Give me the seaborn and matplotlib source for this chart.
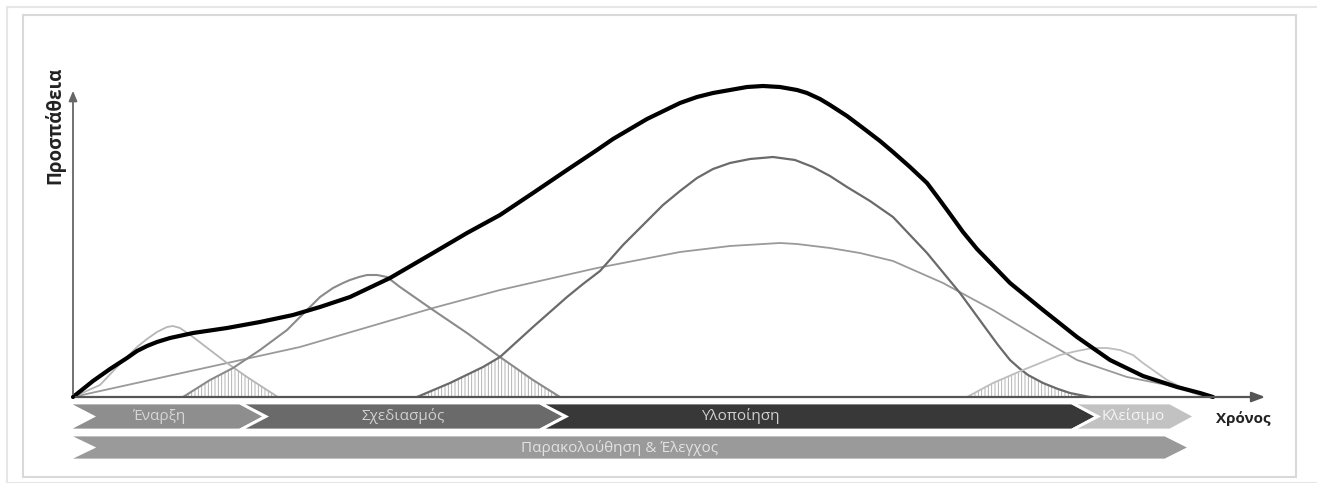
import numpy as np
import pandas as pd
import seaborn as sns
import matplotlib
matplotlib.use('Agg')
import matplotlib.pyplot as plt
from matplotlib.patches import Polygon, Rectangle

sns.set_style('white')
plt.rcParams['font.family'] = ['Open Sans', 'DejaVu Sans']
plt.rcParams['hatch.linewidth'] = 0.6

# effort curves (time, effort)
total_t = [0, 10, 20, 37, 54, 64, 74, 84, 97, 120, 154, 187, 220, 247, 277, 317, 360, 394, 427, 460, 494,
           524, 540, 574, 607, 624, 640, 657, 674, 690, 707, 724, 734, 747, 757, 774, 790, 807, 820, 837,
           854, 866, 877, 890, 904, 937, 970, 1004, 1037, 1070, 1104, 1127, 1140]
total_e = [0, 8, 16, 28, 39, 46, 51, 55, 59, 64, 69, 75, 82, 90, 100, 119, 144, 164, 182, 204, 227,
           247, 258, 278, 294, 300, 304, 307, 310, 311, 310, 307, 304, 298, 292, 281, 269, 256, 245, 230,
           214, 198, 183, 165, 148, 114, 87, 60, 37, 21, 10, 4, 0]

init_t = [0, 27, 44, 54, 64, 74, 84, 94, 100, 107, 120, 137, 154, 174, 194, 205]
init_e = [0, 12, 30, 40, 50, 58, 65, 70, 71, 69, 60, 47, 34, 20, 7, 0]

plan_t = [110, 137, 160, 187, 214, 234, 247, 260, 270, 277, 286, 294, 304, 314, 327, 360, 394, 427, 460, 487]
plan_e = [0, 17, 29, 47, 67, 87, 100, 109, 114, 117, 120, 122, 122, 120, 110, 87, 64, 40, 17, 0]

exec_t = [344, 377, 410, 427, 460, 477, 494, 510, 527, 550, 574, 590, 607, 624, 640, 657, 677, 700, 722,
          740, 757, 774, 797, 820, 854, 887, 914, 925, 937, 946, 955, 970, 985, 997, 1017]
exec_e = [0, 14, 30, 40, 70, 85, 100, 113, 126, 152, 176, 192, 206, 219, 228, 234, 238, 240, 237,
          230, 221, 210, 196, 180, 144, 104, 67, 52, 37, 29, 22, 14, 8, 4, 0]

mc_t = [0, 127, 227, 360, 427, 524, 607, 657, 690, 707, 724, 757, 787, 820, 870, 920, 970, 1004, 1054,
        1104, 1137]
mc_e = [0, 28, 50, 89, 107, 129, 145, 151, 153, 154, 153, 149, 144, 136, 114, 87, 57, 37, 20, 10, 0]

close_t = [894, 920, 950, 987, 1004, 1020, 1034, 1047, 1060, 1070, 1094, 1120, 1134]
close_e = [0, 14, 27, 42, 46, 49, 49, 47, 42, 34, 17, 4, 0]

# phases (start, end of body) on the time axis
phase_names = ['Έναρξη', 'Σχεδιασμός', 'Υλοποίηση', 'Κλείσιμο']
phase_start = [-6, 167, 467, 999]
phase_end = [167, 467, 999, 1097]
mc_name = 'Παρακολούθηση & Έλεγχος'
mc_start, mc_end = -6, 1092

fig = plt.figure(figsize=(13.17, 4.83), dpi=100)
ax = fig.add_axes([0, 0, 1, 1])

# frames
fig.patches.append(Rectangle((7 / 1317, 0), 1, 1 - 7 / 483, transform=fig.transFigure,
                             fill=False, ec='#e6e6e6', lw=1.5))
fig.patches.append(Rectangle((23 / 1317, 6 / 483), 1273 / 1317, 462 / 483, transform=fig.transFigure,
                             fill=False, ec='#d9d9d9', lw=1.5))

series = [
    (mc_t, mc_e, '#9a9a9a', 1.3),
    (init_t, init_e, '#b5b5b5', 1.3),
    (plan_t, plan_e, '#8a8a8a', 1.5),
    (exec_t, exec_e, '#6a6a6a', 1.6),
    (close_t, close_e, '#bdbdbd', 1.3),
    (total_t, total_e, '#000000', 3.0),
]
for t, e, c, lw in series:
    df = pd.DataFrame({'t': t, 'e': e})
    sns.lineplot(data=df, x='t', y='e', ax=ax, color=c, lw=lw, sort=False, estimator=None,
                 solid_joinstyle='round', solid_capstyle='round')
ax.set_xlim(-73, 1244)
ax.set_ylim(-86, 397)
ax.axis('off')

# overlap hatching between consecutive phases
def overlap(ta, ea, tb, eb):
    g = np.linspace(tb[0], ta[-1], 200)
    y = np.minimum(np.interp(g, ta, ea), np.interp(g, tb, eb))
    ax.fill_between(g, 0, y, facecolor='none', edgecolor='#a8a8a8', hatch='|||||', lw=0)

overlap(init_t, init_e, plan_t, plan_e)
overlap(plan_t, plan_e, exec_t, exec_e)
overlap(exec_t, exec_e, close_t, close_e)

# axes with arrows
ax.annotate('', xy=(0, 309), xytext=(0, 0),
            arrowprops=dict(arrowstyle='-|>,head_length=0.6,head_width=0.25', color='#666', lw=1.3))
ax.annotate('', xy=(1195, 0), xytext=(0, 0),
            arrowprops=dict(arrowstyle='-|>,head_length=0.8,head_width=0.3', color='#555', lw=1.6))
ax.text(-18, 272, 'Προσπάθεια', rotation=90, ha='center', va='center', fontsize=13.5,
        fontweight='bold', color='#222')
ax.text(1170, -22, 'Χρόνος', ha='center', va='center', fontsize=11, fontweight='bold', color='#222')

# chevrons
def chevron(x0, x1, top, bot, color, notch=26, tip=25):
    mid = (top + bot) / 2
    pts = [(x0, top), (x1, top), (x1 + tip, mid), (x1, bot), (x0, bot), (x0 + notch, mid)]
    ax.add_patch(Polygon(pts, closed=True, fc=color, ec='white', lw=2, zorder=3))

phase_colors = ['#8e8e8e', '#6a6a6a', '#383838', '#c2c2c2']
text_colors = ['#d6d6d6', '#d0d0d0', '#d0d0d0', '#f4f4f4']
label_x = [87, 330, 667, 1060]
for i in range(len(phase_names)):
    chevron(phase_start[i], phase_end[i], -6, -33, phase_colors[i])
    ax.text(label_x[i], -19.5, phase_names[i], ha='center', va='center', fontsize=11,
            color=text_colors[i], zorder=4)

chevron(mc_start, mc_end, -38, -63, '#9a9a9a')
ax.text(547, -50.5, mc_name, ha='center', va='center', fontsize=11, color='#e2e2e2', zorder=4)

fig.savefig('out.png', dpi=100)
